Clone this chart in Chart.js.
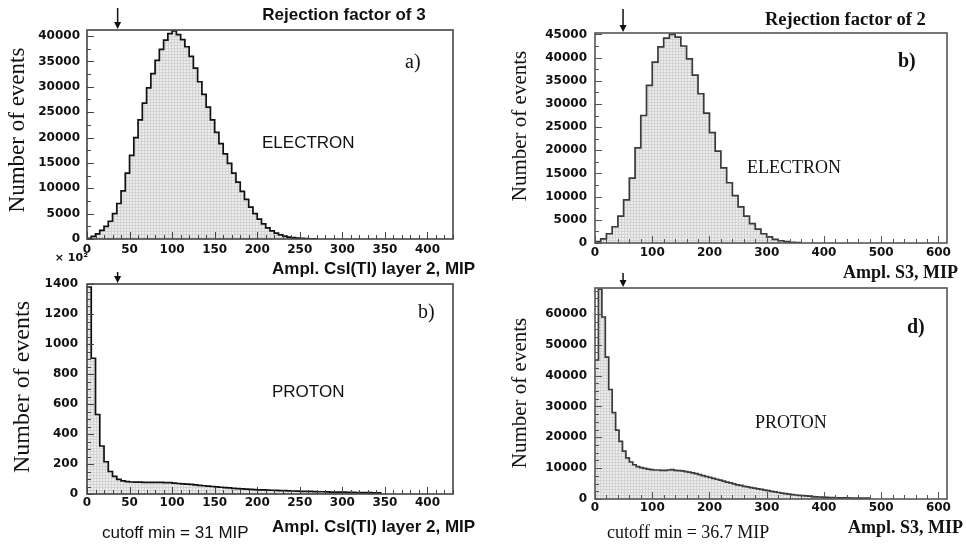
<!DOCTYPE html>
<html>
<head>
<meta charset="utf-8">
<title>Electron / proton amplitude spectra</title>
<script src="https://cdn.jsdelivr.net/npm/chart.js@4.4.1/dist/chart.umd.min.js"></script>
<style>
  html, body { margin: 0; padding: 0; background: #fff; }
  #page { position: relative; width: 966px; height: 544px; overflow: hidden; background: #fff; }
  canvas { position: absolute; }
</style>
</head>
<body>
<div id="page">
  <canvas id="csi-electron" width="490" height="290" style="left:0px;top:0px"></canvas>
  <canvas id="csi-proton" width="490" height="294" style="left:0px;top:250px"></canvas>
  <canvas id="s3-electron" width="486" height="290" style="left:480px;top:0px"></canvas>
  <canvas id="s3-proton" width="486" height="274" style="left:480px;top:270px"></canvas>
</div>
<script>
// DADOS - CsI(Tl) layer 2 (bins de 5 MIP)
const csiBinWidth = 5
const csiElectron = [
  150, 500, 1000, 1700, 2500, 3500, 5000, 7000, 9500, 13000,
  16500, 20000, 23500, 26800, 29800, 32600, 35200, 37400, 39200, 40500,
  41000, 40300, 39300, 37900, 36000, 33700, 31000, 28500, 26000, 23500,
  21000, 18800, 16800, 14900, 13000, 11200, 9400, 7800, 6300, 5000,
  3900, 3000, 2200, 1600, 1150, 800, 560, 380, 260, 170,
  110, 70, 40, 20
]
// proton, em unidades de x10^2
const csiProton = [
  1380, 905, 530, 320, 215, 150, 118, 98, 88, 82,
  80, 79, 79, 78, 78, 78, 77, 77, 76, 76,
  72, 70, 68, 66, 64, 61, 58, 55, 52, 50,
  47, 45, 43, 41, 38, 36, 34, 32, 31, 29,
  28, 27, 26, 25, 24, 23, 22, 21, 20, 19,
  18, 17, 17, 16, 15, 15, 14, 13, 13, 12,
  12, 11, 11, 10, 10, 9, 9, 8, 8
]

// DADOS - S3
const s3ElectronBinWidth = 10
const s3Electron = [
  300, 900, 2000, 3500, 5800, 9300, 14000, 20500, 27500, 34000,
  39000, 42300, 44200, 45000, 44400, 42500, 39700, 36200, 32200, 28000,
  23800, 19800, 16200, 13000, 10200, 7800, 5800, 4200, 3000, 2000,
  1300, 800, 480, 280, 150, 70
]
const s3ProtonBinWidth = 6
const s3Proton = [
  45000, 68000, 59000, 46000, 35500, 28000, 22300, 18700, 15500, 13300,
  12000, 11100, 10500, 10200, 9900, 9700, 9500, 9400, 9400, 9300,
  9300, 9400, 9500, 9300, 9200, 9100, 8900, 8700, 8500, 8200,
  7900, 7600, 7300, 7000, 6700, 6400, 6100, 5800, 5500, 5200,
  4900, 4600, 4400, 4100, 3900, 3700, 3500, 3300, 3100, 2900,
  2700, 2500, 2300, 2100, 1900, 1750, 1600, 1450, 1300, 1200,
  1100, 1000, 900, 800, 720, 650, 580, 520, 470, 430,
  400, 380, 360, 340, 320, 300, 290, 280, 270, 260
]

// rotulos dos eixos
const csiTicksX = [0, 50, 100, 150, 200, 250, 300, 350, 400]
const s3TicksX = [0, 100, 200, 300, 400, 500, 600]
const csiElectronTicksY = [0, 5000, 10000, 15000, 20000, 25000, 30000, 35000, 40000]
const csiProtonTicksY = [0, 200, 400, 600, 800, 1000, 1200, 1400]
const s3ElectronTicksY = [0, 5000, 10000, 15000, 20000, 25000, 30000, 35000, 40000, 45000]
const s3ProtonTicksY = [0, 10000, 20000, 30000, 40000, 50000, 60000]

// posicao das setas de corte
const csiArrowAt = 36
const s3ArrowAt = 49

function toSteps(values, binWidth) {
    var pts = values.map(function(v, i) { return { x: i * binWidth, y: v } })
    pts.push({ x: values.length * binWidth, y: 0 })
    return pts
}

function makeFill() {
    var c = document.createElement('canvas')
    c.width = 3
    c.height = 3
    var g = c.getContext('2d')
    g.fillStyle = '#ededed'
    g.fillRect(0, 0, 3, 3)
    g.fillStyle = '#d3d3d3'
    g.fillRect(0, 0, 3, 1)
    g.fillRect(0, 0, 1, 3)
    return g.createPattern(c, 'repeat')
}

// moldura, ticks para dentro, seta e textos
const histoFrame = {
    id: 'histoFrame',
    afterDatasetsDraw(chart, args, opts) {
        const ctx = chart.ctx
        const a = chart.chartArea
        const x = chart.scales.x
        const y = chart.scales.y
        ctx.save()
        ctx.strokeStyle = opts.color
        ctx.lineWidth = 1

        // ticks do eixo X
        for (let i = 0; i * opts.xMinor <= x.max; i++) {
            const v = i * opts.xMinor
            const px = Math.round(x.getPixelForValue(v)) + 0.5
            const len = v % opts.xMajor === 0 ? 7 : 4
            ctx.beginPath()
            ctx.moveTo(px, a.bottom)
            ctx.lineTo(px, a.bottom - len)
            ctx.stroke()
        }
        // ticks do eixo Y
        for (let i = 0; i * opts.yMinor <= y.max; i++) {
            const v = i * opts.yMinor
            const py = Math.round(y.getPixelForValue(v)) + 0.5
            const len = v % opts.yMajor === 0 ? 7 : 4
            ctx.beginPath()
            ctx.moveTo(a.left, py)
            ctx.lineTo(a.left + len, py)
            ctx.stroke()
        }

        ctx.lineWidth = 1.6
        ctx.strokeRect(a.left, a.top, a.right - a.left, a.bottom - a.top)

        // seta do corte
        const ax = x.getPixelForValue(opts.arrowAt)
        ctx.strokeStyle = '#111'
        ctx.fillStyle = '#111'
        ctx.lineWidth = 1.5
        ctx.beginPath()
        ctx.moveTo(ax, a.top - opts.arrowLen)
        ctx.lineTo(ax, a.top - 4)
        ctx.stroke()
        ctx.beginPath()
        ctx.moveTo(ax - 3.5, a.top - 8)
        ctx.lineTo(ax + 3.5, a.top - 8)
        ctx.lineTo(ax, a.top - 1)
        ctx.closePath()
        ctx.fill()

        // textos
        ctx.textBaseline = 'middle'
        opts.texts.forEach(function(t) {
            ctx.font = t.font
            ctx.fillStyle = '#111'
            ctx.textAlign = t.align || 'left'
            if (t.rotate) {
                ctx.save()
                ctx.translate(t.x, t.y)
                ctx.rotate(-Math.PI / 2)
                ctx.textAlign = 'center'
                ctx.fillText(t.text, 0, 0)
                ctx.restore()
            } else {
                ctx.fillText(t.text, t.x, t.y)
            }
        })
        ctx.restore()
    }
}

const fillPattern = makeFill()
const tickFont = { family: 'DejaVu Sans', weight: 'bold', size: 12 }

function plainNumber(v) {
    return String(v)
}

function makeHisto(id, cfg) {
    var ctx = document.getElementById(id).getContext('2d')
    return new Chart(ctx, {
        type: 'line',
        data: {
            datasets: [{
                data: toSteps(cfg.values, cfg.binWidth),
                stepped: 'before', // horizontal ate a borda do bin, depois vertical
                fill: 'origin',
                backgroundColor: fillPattern,
                borderColor: cfg.lineColor,
                borderWidth: 1.7,
                pointRadius: 0
            }]
        },
        options: {
            responsive: false,
            animation: false,
            devicePixelRatio: 1,
            layout: { padding: { top: cfg.top, right: cfg.right, left: 0, bottom: 0 } },
            plugins: {
                legend: { display: false },
                tooltip: { enabled: false },
                histoFrame: {
                    color: cfg.frameColor,
                    xMinor: cfg.xMinor, xMajor: cfg.xMajor,
                    yMinor: cfg.yMinor, yMajor: cfg.yMajor,
                    arrowAt: cfg.arrowAt, arrowLen: cfg.arrowLen,
                    texts: cfg.texts
                }
            },
            scales: {
                x: {
                    type: 'linear',
                    min: 0,
                    max: cfg.xMax,
                    grid: { display: false, drawTicks: false },
                    border: { display: false },
                    afterBuildTicks: function(s) { s.ticks = cfg.xTicks.map(function(v) { return { value: v } }) },
                    afterFit: function(s) { s.height = cfg.xHeight },
                    ticks: { font: tickFont, color: '#111', padding: cfg.xPad, maxRotation: 0, autoSkip: false, callback: plainNumber }
                },
                y: {
                    type: 'linear',
                    min: 0,
                    max: cfg.yMax,
                    grid: { display: false, drawTicks: false },
                    border: { display: false },
                    afterBuildTicks: function(s) { s.ticks = cfg.yTicks.map(function(v) { return { value: v } }) },
                    afterFit: function(s) { s.width = cfg.yWidth },
                    ticks: { font: tickFont, color: '#111', padding: cfg.yPad, autoSkip: false, callback: plainNumber }
                }
            }
        },
        plugins: [histoFrame]
    })
}

// GRAFICO a) CsI eletron
makeHisto('csi-electron', {
    values: csiElectron, binWidth: csiBinWidth,
    xMax: 430, yMax: 41200, xTicks: csiTicksX, yTicks: csiElectronTicksY,
    top: 30, right: 37, xHeight: 51, yWidth: 87, xPad: 4, yPad: 7,
    xMinor: 10, xMajor: 50, yMinor: 2500, yMajor: 5000,
    lineColor: '#111', frameColor: '#444',
    arrowAt: csiArrowAt, arrowLen: 22,
    texts: [
        { text: 'Rejection factor of 3', x: 344, y: 15, font: 'bold 17px "Liberation Sans"', align: 'center' },
        { text: 'a)', x: 405, y: 63, font: '20px "Liberation Serif"' },
        { text: 'ELECTRON', x: 262, y: 143, font: '17px "Liberation Sans"' },
        { text: 'Number of events', x: 18, y: 130, font: '23px "Liberation Serif"', rotate: true },
        { text: 'Ampl. CsI(Tl) layer 2, MIP', x: 272, y: 269, font: 'bold 17px "Liberation Sans"' }
    ]
})

// GRAFICO b) CsI proton
makeHisto('csi-proton', {
    values: csiProton, binWidth: csiBinWidth,
    xMax: 430, yMax: 1400, xTicks: csiTicksX, yTicks: csiProtonTicksY,
    top: 34, right: 37, xHeight: 50, yWidth: 87, xPad: 2, yPad: 9,
    xMinor: 10, xMajor: 50, yMinor: 50, yMajor: 200,
    lineColor: '#111', frameColor: '#444',
    arrowAt: csiArrowAt, arrowLen: 12,
    texts: [
        { text: '\u00d7 10\u00b2', x: 88, y: 8, font: 'bold 11px "DejaVu Sans"', align: 'right' },
        { text: 'b)', x: 418, y: 63, font: '20px "Liberation Serif"' },
        { text: 'PROTON', x: 272, y: 142, font: '17px "Liberation Sans"' },
        { text: 'Number of events', x: 23, y: 137, font: '24px "Liberation Serif"', rotate: true },
        { text: 'cutoff min = 31 MIP', x: 102, y: 283, font: '17px "Liberation Sans"' },
        { text: 'Ampl. CsI(Tl) layer 2, MIP', x: 272, y: 277, font: 'bold 17px "Liberation Sans"' }
    ]
})

// GRAFICO b) S3 eletron
makeHisto('s3-electron', {
    values: s3Electron, binWidth: s3ElectronBinWidth,
    xMax: 615, yMax: 45300, xTicks: s3TicksX, yTicks: s3ElectronTicksY,
    top: 33, right: 19, xHeight: 47, yWidth: 115, xPad: 3, yPad: 8,
    xMinor: 20, xMajor: 100, yMinor: 2500, yMajor: 5000,
    lineColor: '#3a3a3a', frameColor: '#555',
    arrowAt: s3ArrowAt, arrowLen: 24,
    texts: [
        { text: 'Rejection factor of 2', x: 285, y: 20, font: 'bold 18.5px "Liberation Serif"' },
        { text: 'b)', x: 418, y: 62, font: 'bold 20px "Liberation Serif"' },
        { text: 'ELECTRON', x: 267, y: 168, font: '18px "Liberation Serif"' },
        { text: 'Number of events', x: 40, y: 126, font: '21px "Liberation Serif"', rotate: true },
        { text: 'Ampl. S3, MIP', x: 478, y: 273, font: 'bold 18px "Liberation Serif"', align: 'right' }
    ]
})

// GRAFICO d) S3 proton
makeHisto('s3-proton', {
    values: s3Proton, binWidth: s3ProtonBinWidth,
    xMax: 615, yMax: 68400, xTicks: s3TicksX, yTicks: s3ProtonTicksY,
    top: 18, right: 19, xHeight: 45, yWidth: 115, xPad: 2, yPad: 8,
    xMinor: 20, xMajor: 100, yMinor: 2500, yMajor: 10000,
    lineColor: '#3a3a3a', frameColor: '#555',
    arrowAt: s3ArrowAt, arrowLen: 15,
    texts: [
        { text: 'd)', x: 427, y: 58, font: 'bold 20px "Liberation Serif"' },
        { text: 'PROTON', x: 275, y: 153, font: '18px "Liberation Serif"' },
        { text: 'Number of events', x: 40, y: 123, font: '21px "Liberation Serif"', rotate: true },
        { text: 'cutoff min = 36.7 MIP', x: 127, y: 263, font: '18px "Liberation Serif"' },
        { text: 'Ampl. S3, MIP', x: 483, y: 258, font: 'bold 18px "Liberation Serif"', align: 'right' }
    ]
})
</script>
</body>
</html>
